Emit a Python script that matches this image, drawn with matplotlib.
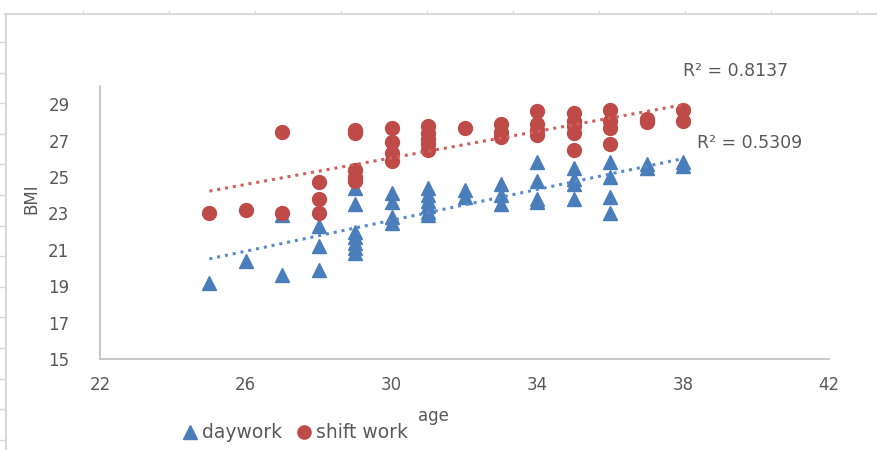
import matplotlib
matplotlib.use("Agg")
import matplotlib.pyplot as plt
import numpy as np
from matplotlib.lines import Line2D

# daywork (triangles)
day_age = [25, 26, 27, 27, 28, 28, 28,
           29, 29, 29, 29, 29, 29, 29,
           30, 30, 30, 30,
           31, 31, 31, 31, 31, 31,
           32, 32, 33, 33, 33,
           34, 34, 34, 34,
           35, 35, 35, 35,
           36, 36, 36, 36,
           37, 37, 38, 38]
day_bmi = [19.2, 20.4, 19.6, 22.9, 19.9, 21.2, 22.3,
           20.8, 21.1, 21.4, 21.7, 22.0, 23.5, 24.4,
           24.1, 23.6, 22.8, 22.5,
           24.4, 24.0, 23.7, 23.4, 23.1, 22.9,
           24.3, 23.9, 24.6, 24.0, 23.5,
           25.8, 24.8, 23.8, 23.6,
           25.5, 24.9, 24.6, 23.8,
           25.8, 25.0, 23.9, 23.0,
           25.5, 25.7, 25.6, 25.8]

# shift work (circles)
shift_age = [25, 26, 27, 27, 28, 28, 28,
             29, 29, 29, 29, 29,
             30, 30, 30, 30,
             31, 31, 31, 31, 31,
             32, 33, 33, 33,
             34, 34, 34, 34,
             35, 35, 35, 35, 35,
             36, 36, 36, 36,
             37, 37, 38, 38]
shift_bmi = [23.0, 23.2, 23.0, 27.5, 23.0, 23.8, 24.7,
             27.4, 27.6, 24.8, 25.0, 25.4,
             27.7, 26.9, 26.3, 25.9,
             27.8, 27.4, 27.1, 26.8, 26.5,
             27.7, 27.9, 27.5, 27.2,
             28.6, 27.9, 27.6, 27.3,
             28.5, 28.1, 27.8, 27.4, 26.5,
             28.7, 28.1, 27.7, 26.8,
             28.0, 28.2, 28.7, 28.1]

r2_labels = ["R² = 0.8137", "R² = 0.5309"]

blue = "#4A7EBB"
red = "#BE4B48"
grey_txt = "#595959"
fs = 12

fig = plt.figure(figsize=(8.77, 4.5), dpi=100)
ax = fig.add_axes([100 / 877, 1 - 359 / 450, 729 / 877, 273 / 450])

# spreadsheet frame peeking behind the chart
frame = "#d9d9d9"
fig.add_artist(Line2D([5 / 877, 1], [1 - 14 / 450] * 2, color=frame, lw=1.5))
fig.add_artist(Line2D([6 / 877] * 2, [0, 1 - 14 / 450], color=frame, lw=1.5))
for yp in np.arange(42, 450, 30.6):
    fig.add_artist(Line2D([0, 5 / 877], [1 - yp / 450] * 2, color=frame, lw=1))
for xp in np.arange(83, 877, 86):
    fig.add_artist(Line2D([xp / 877] * 2, [1 - 14 / 450, 1 - 11 / 450], color=frame, lw=1))

ax.plot(day_age, day_bmi, "^", color=blue, ms=10, mec=blue, ls="none", label="daywork")
ax.plot(shift_age, shift_bmi, "o", color=red, ms=10, mec=red, ls="none", label="shift work")

# linear trend lines, as Excel draws them
for xs, ys, c in [(shift_age, shift_bmi, "#D0605D"), (day_age, day_bmi, "#5A8ACB")]:
    k, b = np.polyfit(xs, ys, 1)
    xx = np.array([min(xs), max(xs)])
    ax.plot(xx, k * xx + b, color=c, lw=2.2, ls=(0, (1, 1.6)))

ax.text(38.0, 30.8, r2_labels[0], color=grey_txt, fontsize=12.5, va="center", clip_on=False)
ax.text(38.38, 26.87, r2_labels[1], color=grey_txt, fontsize=12.5, va="center", clip_on=False)

ax.set_xlim(22, 42)
ax.set_ylim(15, 30)
ax.set_xticks(np.arange(22, 43, 4))
ax.set_yticks(np.arange(15, 30, 2))
ax.tick_params(length=0, labelsize=fs, colors=grey_txt)
ax.tick_params(axis="y", pad=22)
ax.tick_params(axis="x", pad=12)
for s in ["top", "right"]:
    ax.spines[s].set_visible(False)
for s in ["left", "bottom"]:
    ax.spines[s].set_color("#bfbfbf")
    ax.spines[s].set_linewidth(1.2)

ax.set_xlabel("age", color=grey_txt, fontsize=fs)
ax.xaxis.set_label_coords(0.457, -0.176)
ax.set_ylabel("BMI", color=grey_txt, fontsize=fs)
ax.yaxis.set_label_coords(-0.082, 0.586)

fig.legend(loc="center", bbox_to_anchor=(295 / 877, 1 - 433 / 450), ncol=2, frameon=False,
           fontsize=13.5, labelcolor=grey_txt, handletextpad=0.2, columnspacing=0.7,
           handlelength=0.9, markerscale=0.95)

fig.savefig("out.png", dpi=100)
